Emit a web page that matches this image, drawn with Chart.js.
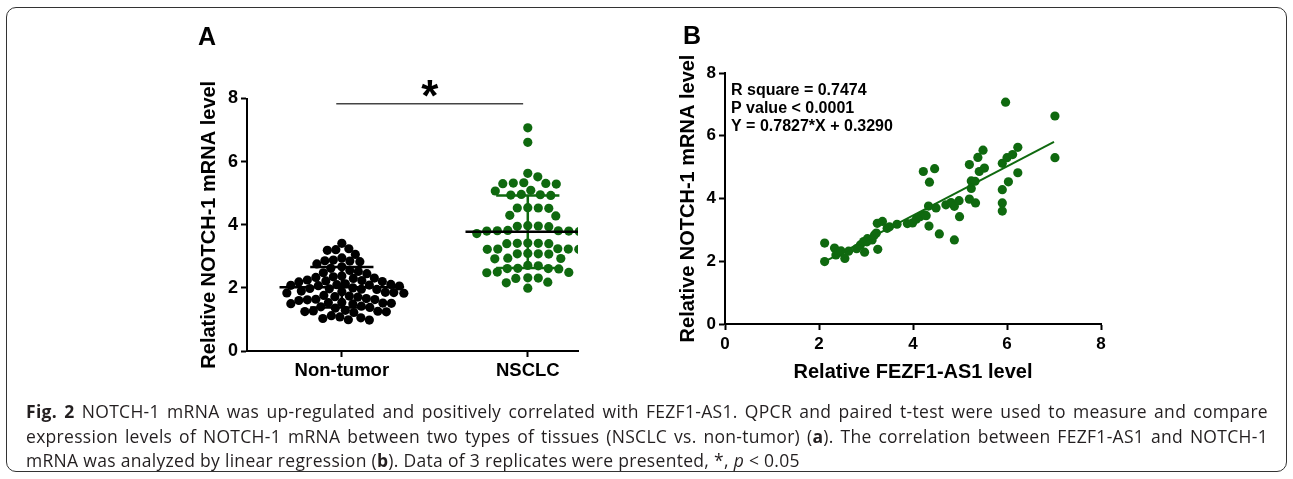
<!DOCTYPE html>
<html>
<head>
<meta charset="utf-8">
<script src="https://cdn.jsdelivr.net/npm/chart.js@4.4.1/dist/chart.umd.min.js"></script>
<style>
body { margin: 0; width: 1293px; height: 479px; background: #fff; position: relative; overflow: hidden; }
#frame { position: absolute; left: 6px; top: 7px; width: 1279px; height: 463px; border: 1.5px solid #333; border-radius: 10px; }
#chartA { position: absolute; left: 0; top: 0; }
#chartB { position: absolute; left: 620px; top: 0; }
.caption { position: absolute; left: 26px; top: 399px; width: 1242px; font-family: "Open Sans"; font-size: 17.5px; letter-spacing: 0.3px; line-height: 24.5px; color: #231f20; }
.caption .ln { text-align: justify; text-align-last: justify; }
</style>
</head>
<body>
<div id="frame"></div>
<canvas id="chartA" width="620" height="400"></canvas>
<canvas id="chartB" width="673" height="400"></canvas>
<div class="caption">
<div class="ln"><b>Fig. 2</b> NOTCH-1 mRNA was up-regulated and positively correlated with FEZF1-AS1. QPCR and paired t-test were used to measure and compare</div>
<div class="ln">expression levels of NOTCH-1 mRNA between two types of tissues (NSCLC vs. non-tumor) (<b>a</b>). The correlation between FEZF1-AS1 and NOTCH-1</div>
<div>mRNA was analyzed by linear regression (<b>b</b>). Data of 3 replicates were presented, *, <i>p</i> &lt; 0.05</div>
</div>
<script>
// panel A
const groupLabels = ["Non-tumor", "NSCLC"];
const nonTumor = [3.41, 3.24, 3.21, 3.19, 3.06, 2.95, 2.88, 2.86, 2.85, 2.83,
    2.76, 2.67, 2.62, 2.55, 2.52, 2.48, 2.45, 2.38, 2.35, 2.33, 2.31, 2.30,
    2.25, 2.23, 2.22, 2.20, 2.19, 2.13, 2.11, 2.10, 2.09, 2.08, 2.07, 2.06,
    2.00, 1.98, 1.97, 1.96, 1.95, 1.90, 1.88, 1.86, 1.85, 1.84, 1.83,
    1.76, 1.74, 1.72, 1.71, 1.66, 1.64, 1.63, 1.62, 1.60,
    1.54, 1.53, 1.52, 1.51, 1.50, 1.49, 1.42, 1.40, 1.38, 1.36,
    1.29, 1.27, 1.26, 1.25, 1.24, 1.22, 1.12, 1.08, 1.05, 1.03, 0.99, 0.98];
const nsclc = [7.07, 6.61, 5.63, 5.52, 5.33, 5.32, 5.31, 5.30, 5.29, 5.09, 5.07,
    4.96, 4.95, 4.94, 4.93, 4.54, 4.53, 4.53, 4.52, 4.30, 4.28,
    3.97, 3.96, 3.95, 3.94, 3.82, 3.81, 3.81, 3.80, 3.80, 3.79, 3.72, 3.71,
    3.42, 3.41, 3.41, 3.40, 3.40, 3.24, 3.23, 3.23, 3.22, 3.22, 3.09, 3.08, 3.08, 3.07,
    2.94, 2.93, 2.92, 2.71, 2.70, 2.62, 2.61, 2.61, 2.60, 2.50, 2.49, 2.48,
    2.32, 2.31, 2.30, 2.18, 2.16, 1.99];
const groupMean = [2.02, 3.78];
const groupSD = [0.64, 1.15];
const groupColors = ["#000000", "#0f690f"];
const yTicksA = [0, 2, 4, 6, 8];
const sigBar = [0.97, 1.975, 7.83];

// panel B
const fezf1Level = [2.12, 2.12, 2.33, 2.36, 2.42, 2.47, 2.55, 2.63, 2.80, 2.88, 2.95, 2.97, 3.03, 3.13, 3.18, 3.22,
    3.25, 3.24, 3.35, 3.45, 3.50, 3.66, 3.88, 3.99, 4.07, 4.15, 4.25, 4.33, 4.34, 4.22, 4.46, 4.35,
    4.49, 4.56, 4.70, 4.81, 4.88, 4.88, 4.98, 4.99, 5.20, 5.33, 5.24, 5.20, 5.24, 5.32, 5.38, 5.49,
    5.41, 5.52, 5.90, 6.00, 6.12, 6.23, 6.23, 6.03, 5.90, 5.90, 5.90, 5.97, 7.02, 7.02, 4.28, 3.02];
const notch1Level = [2.58, 1.99, 2.42, 2.20, 2.28, 2.33, 2.09, 2.32, 2.40, 2.52, 2.63, 2.29, 2.72, 2.68, 2.84, 2.90,
    2.38, 3.21, 3.27, 3.05, 3.10, 3.18, 3.20, 3.22, 3.34, 3.42, 3.48, 3.76, 3.12, 4.86, 4.95, 4.52,
    3.70, 2.87, 3.80, 3.87, 3.75, 2.68, 3.93, 3.42, 3.98, 3.86, 4.32, 5.08, 4.56, 4.55, 5.31, 5.54,
    4.86, 4.97, 5.12, 5.30, 5.40, 5.63, 4.82, 4.53, 4.28, 3.86, 3.60, 7.07, 6.63, 5.30, 3.45, 2.62];
const fitSlope = 0.7827;
const fitIntercept = 0.3290;
const fitRange = [2.1, 7.0];
const statLines = ["R square = 0.7474", "P value < 0.0001", "Y = 0.7827*X + 0.3290"];
const axisTicksB = [0, 2, 4, 6, 8];

const green = "#0f690f";
const fontName = "Liberation Sans, Arial, sans-serif";

// spread dots of one group sideways so they don't pile up (pixel units)
function swarm(values, center, pxX, pxY, minDist) {
    let order = values.map((v, i) => i).sort((a, b) => values[b] - values[a]);
    let placed = [];
    let out = [];
    order.forEach(i => {
        let py = values[i] * pxY;
        let k = 0, off = 0;
        while (true) {
            off = (k % 2 ? 1 : -1) * Math.ceil(k / 2) * 0.5;
            if (placed.every(p => Math.hypot(p.x - off, p.y - py) >= minDist)) break;
            k++;
        }
        placed.push({ x: off, y: py });
        out.push({ x: center + off / pxX, y: values[i] });
    });
    return out;
}

function axisStyle(extra) {
    return Object.assign({
        grid: { drawOnChartArea: false, drawTicks: true, tickLength: 6, tickWidth: 2, tickColor: "#000" },
        border: { display: true, color: "#000", width: 2 }
    }, extra);
}

// ---------- chart A ----------
const xMinA = 0.49, xMaxA = 2.27;
const pxPerX = 331 / (xMaxA - xMinA);
const pxPerY = 252 / 8;

let lineSets = [];
function seg(x1, y1, x2, y2, color, width) {
    lineSets.push({
        type: "line", data: [{ x: x1, y: y1 }, { x: x2, y: y2 }],
        borderColor: color, borderWidth: width, pointRadius: 0, fill: false
    });
}
groupMean.forEach((m, g) => {
    let c = g + 1, sd = groupSD[g], col = groupColors[g];
    seg(c - 0.335, m, c + 0.335, m, "#000", 2.5);
    seg(c - 0.17, m + sd, c + 0.17, m + sd, col, 2.5);
    seg(c - 0.17, m - sd, c + 0.17, m - sd, col, 2.5);
    seg(c, m - sd, c, m + sd, col, 2.5);
});
seg(sigBar[0], sigBar[2], sigBar[1], sigBar[2], "#444", 1.5);

const extrasA = {
    id: "extrasA",
    afterDraw(chart) {
        let ctx = chart.ctx;
        ctx.save();
        ctx.fillStyle = "#000";
        ctx.font = "bold 25px " + fontName;
        ctx.textAlign = "left";
        ctx.textBaseline = "alphabetic";
        ctx.fillText("A", 198, 45);
        ctx.font = "bold 44px " + fontName;
        ctx.textAlign = "center";
        let x = chart.scales.x.getPixelForValue((sigBar[0] + sigBar[1]) / 2);
        let y = chart.scales.y.getPixelForValue(8.36);
        ctx.fillText("*", x, y + 0.55 * 44);
        ctx.restore();
    }
};

new Chart(document.getElementById("chartA"), {
    type: "scatter",
    data: {
        datasets: lineSets.concat([
            { data: swarm(nonTumor, 1, pxPerX, pxPerY, 8.5), pointRadius: 4.6, pointBackgroundColor: groupColors[0], pointBorderWidth: 0 },
            { data: swarm(nsclc, 2, pxPerX, pxPerY, 10.2), pointRadius: 4.6, pointBackgroundColor: groupColors[1], pointBorderWidth: 0 }
        ])
    },
    options: {
        responsive: false,
        animation: false,
        layout: { padding: { left: 197, right: 42, top: 98.5, bottom: 9 } },
        plugins: { legend: { display: false }, tooltip: { enabled: false } },
        scales: {
            x: axisStyle({
                type: "linear", min: xMinA, max: xMaxA,
                afterBuildTicks: s => { s.ticks = [{ value: 1 }, { value: 2 }]; },
                afterFit: s => { s.height = 40; },
                ticks: { callback: (v, i) => groupLabels[i], color: "#000", padding: 3, font: { family: fontName, size: 18.5, weight: "bold" } }
            }),
            y: axisStyle({
                min: 0, max: 8,
                afterBuildTicks: s => { s.ticks = yTicksA.map(v => ({ value: v })); },
                afterFit: s => { s.width = 50; },
                ticks: { color: "#000", padding: 3, font: { family: fontName, size: 18, weight: "bold" } },
                title: { display: true, text: "Relative NOTCH-1 mRNA level", color: "#000", padding: 0, font: { family: fontName, size: 20, weight: "bold" } }
            })
        }
    },
    plugins: [extrasA]
});

// ---------- chart B ----------
const extrasB = {
    id: "extrasB",
    afterDraw(chart) {
        let ctx = chart.ctx;
        let area = chart.chartArea;
        ctx.save();
        ctx.fillStyle = "#000";
        ctx.textAlign = "left";
        ctx.textBaseline = "alphabetic";
        ctx.font = "bold 25px " + fontName;
        ctx.fillText("B", 63, 44);
        ctx.font = "bold 16px " + fontName;
        statLines.forEach((t, i) => {
            ctx.fillText(t, area.left + 6, area.top + 21.7 + i * 18.2);
        });
        ctx.restore();
    }
};

new Chart(document.getElementById("chartB"), {
    type: "scatter",
    data: {
        datasets: [
            {
                type: "line",
                data: fitRange.map(x => ({ x: x, y: fitSlope * x + fitIntercept })),
                borderColor: green, borderWidth: 2, pointRadius: 0, fill: false
            },
            {
                data: fezf1Level.map((x, i) => ({ x: x, y: notch1Level[i] })),
                pointRadius: 4.6, pointBackgroundColor: green, pointBorderWidth: 0
            }
        ]
    },
    options: {
        responsive: false,
        animation: false,
        layout: { padding: { left: 56, right: 192, top: 73, bottom: 16 } },
        plugins: { legend: { display: false }, tooltip: { enabled: false } },
        scales: {
            x: axisStyle({
                type: "linear", min: 0, max: 8,
                afterBuildTicks: s => { s.ticks = axisTicksB.map(v => ({ value: v })); },
                afterFit: s => { s.height = 60; },
                ticks: { color: "#000", padding: 4, font: { family: fontName, size: 17, weight: "bold" } },
                title: { display: true, text: "Relative FEZF1-AS1 level", color: "#000", padding: 0, font: { family: fontName, size: 20, weight: "bold" } }
            }),
            y: axisStyle({
                min: 0, max: 8,
                afterBuildTicks: s => { s.ticks = axisTicksB.map(v => ({ value: v })); },
                afterFit: s => { s.width = 49; },
                ticks: { color: "#000", padding: 3, font: { family: fontName, size: 17, weight: "bold" } },
                title: { display: true, text: "Relative NOTCH-1 mRNA level", color: "#000", padding: 0, font: { family: fontName, size: 20, weight: "bold" } }
            })
        }
    },
    plugins: [extrasB]
});
</script>
</body>
</html>
